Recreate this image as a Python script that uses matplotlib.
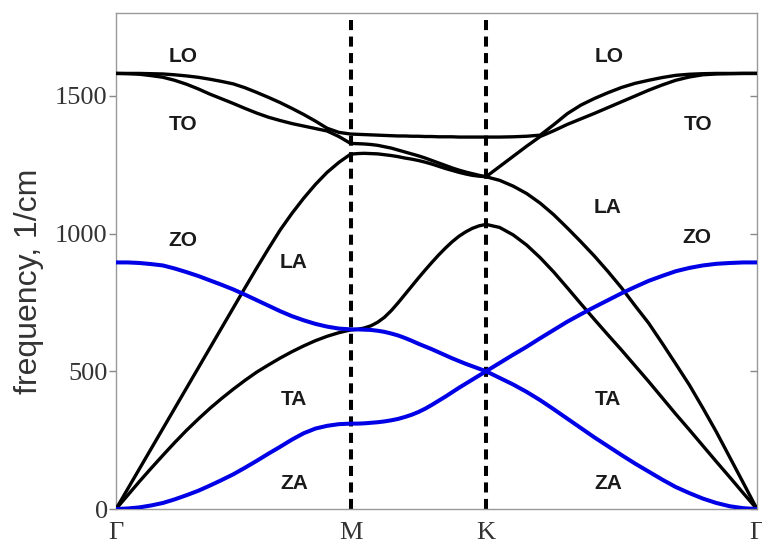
import matplotlib.pyplot as plt
import numpy as np

# puntos de alta simetria y longitudes de cada tramo del camino
puntos = ['Γ', 'M', 'K', 'Γ']
largo_tramos = [0.866, 0.5, 1.0]

# muestras por tramo (paso 0.05) -> 21 + 20 + 20 = 61 puntos
t_gm = np.linspace(0, 1, 21)
t_mk = np.linspace(0.05, 1, 20)
t_kg = np.linspace(0.05, 1, 20)

# ramas en el plano (negro), frecuencias en 1/cm
TA = [0, 50, 100, 148, 195, 241, 285, 326, 365, 401, 435,
      467, 497, 523, 548, 571, 592, 611, 627, 640, 650,
      652, 657, 665, 678, 696, 720, 748, 778, 808, 838,
      867, 895, 922, 947, 970, 990, 1006, 1019, 1028, 1033,
      1022, 995, 958, 912, 860, 803, 745, 688, 632, 577,
      520, 463, 404, 345, 288, 230, 172, 115, 57, 0]
LA = [0, 73, 146, 219, 292, 365, 438, 511, 584, 657, 730,
      803, 875, 945, 1013, 1073, 1128, 1178, 1222, 1258, 1288,
      1290, 1291, 1290, 1289, 1286, 1283, 1279, 1274, 1270, 1265,
      1259, 1252, 1244, 1236, 1229, 1222, 1216, 1211, 1208, 1206,
      1193, 1172, 1145, 1110, 1068, 1020, 970, 918, 862, 803,
      738, 675, 602, 527, 451, 367, 280, 187, 94, 0]
TO = [1581, 1580, 1578, 1573, 1567, 1556, 1542, 1525, 1506, 1489, 1472,
      1454, 1437, 1422, 1410, 1399, 1390, 1381, 1372, 1352, 1327,
      1326, 1325, 1323, 1320, 1315, 1310, 1303, 1296, 1289, 1282,
      1274, 1265, 1256, 1247, 1238, 1230, 1223, 1217, 1211, 1206,
      1243, 1280, 1317, 1352, 1373, 1396, 1416, 1436, 1457, 1478,
      1499, 1520, 1539, 1556, 1568, 1576, 1579, 1580, 1581, 1581]
LO = [1581, 1581, 1581, 1580, 1579, 1576, 1572, 1567, 1560, 1552, 1543,
      1529, 1512, 1494, 1475, 1454, 1432, 1408, 1382, 1367, 1361,
      1360, 1359, 1358, 1357, 1356, 1355, 1354, 1354, 1353, 1353,
      1352, 1352, 1351, 1351, 1351, 1350, 1350, 1350, 1350, 1350,
      1350, 1351, 1353, 1357, 1395, 1435, 1466, 1490, 1511, 1530,
      1545, 1556, 1566, 1574, 1578, 1580, 1581, 1581, 1581, 1581]

# ramas fuera del plano (azul)
ZA = [0, 2, 6, 13, 22, 35, 50, 66, 85, 105, 126,
      150, 175, 201, 226, 252, 275, 292, 302, 308, 310,
      310, 311, 313, 315, 318, 322, 327, 334, 342, 352,
      364, 378, 393, 408, 424, 440, 455, 470, 485, 500,
      530, 560, 589, 620, 650, 680, 707, 733, 758, 783,
      806, 828, 846, 863, 875, 884, 890, 893, 895, 895]
ZO = [895, 895, 893, 889, 884, 873, 860, 846, 830, 814, 797,
      778, 758, 738, 718, 700, 685, 672, 662, 655, 652,
      652, 651, 650, 647, 643, 637, 630, 621, 611, 600,
      590, 580, 569, 558, 547, 537, 527, 518, 509, 500,
      476, 452, 425, 395, 362, 328, 294, 260, 228, 196,
      165, 136, 107, 80, 58, 38, 22, 10, 3, 0]

etiquetas = ['LO', 'TO', 'ZO', 'LA', 'TA', 'ZA',
             'LO', 'TO', 'LA', 'ZO', 'TA', 'ZA']

# coordenada q a lo largo del camino
qM = largo_tramos[0]
qK = qM + largo_tramos[1]
qG = qK + largo_tramos[2]
q = np.concatenate([t_gm * qM, qM + t_mk * largo_tramos[1], qK + t_kg * largo_tramos[2]])
q_puntos = [0, qM, qK, qG]

fig = plt.figure(figsize=(7.62, 5.45), dpi=100)
ax = fig.add_axes([0.1522, 0.066, 0.8412, 0.910])

for rama in [TA, LA, TO, LO]:
    ax.plot(q, rama, color='black', lw=2.4, solid_capstyle='round',
            solid_joinstyle='round', zorder=3)
for rama in [ZA, ZO]:
    ax.plot(q, rama, color='#0000e6', lw=2.9, solid_capstyle='round',
            solid_joinstyle='round', zorder=4)

for xv in [qM, qK]:
    ax.axvline(xv, color='black', lw=2.9, linestyle=(0, (2.5, 1.6)), zorder=2)

# posiciones de los nombres de las ramas
pos_etiquetas = [(0.247, 1644), (0.247, 1397), (0.247, 973), (0.657, 893), (0.657, 396), (0.657, 91),
                 (1.820, 1644), (2.148, 1397), (1.816, 1093), (2.145, 984), (1.816, 396), (1.816, 91)]
for txt, (xt, yt) in zip(etiquetas, pos_etiquetas):
    ax.text(xt, yt, txt, ha='center', va='center', fontsize=15, fontweight='bold',
            family='Liberation Sans', color='#1a1a1a', zorder=5)

ax.set_xlim(0, qG)
ax.set_ylim(0, 1800)
ax.set_xticks(q_puntos)
ax.set_xticklabels(puntos, family='Liberation Serif', fontsize=19)
ax.set_yticks([0, 500, 1000, 1500])
ax.set_yticklabels(['0', '500', '1000', '1500'], family='Liberation Serif', fontsize=19)
ax.tick_params(axis='x', length=0, pad=9, colors='#333333')
ax.tick_params(axis='y', direction='out', length=5, width=1, color='#888888', labelcolor='#333333', pad=1)
for sp in ax.spines.values():
    sp.set_color('#999999')
    sp.set_linewidth(1)

# marcas del eje derecho hacia adentro
ax2 = ax.twinx()
ax2.set_ylim(0, 1800)
ax2.set_yticks([0, 500, 1000, 1500])
ax2.set_yticklabels([])
ax2.tick_params(axis='y', direction='in', length=5, width=1, color='#888888')
for sp in ax2.spines.values():
    sp.set_visible(False)

ax.set_ylabel('frequency, 1/cm', family='Liberation Sans', fontsize=23, color='#333333')
ax.yaxis.set_label_coords(-0.112, 0.46)

fig.savefig('out.png', dpi=100)
